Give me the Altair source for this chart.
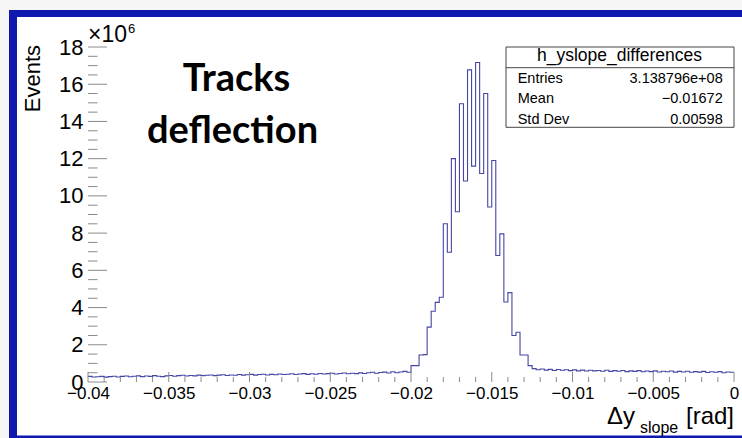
import altair as alt
import pandas as pd

# ---------------- data ----------------
x_min, x_max = -0.04, 0.0
bin_width = 0.00025   # 160 bins

# counts per bin in units of 10^6
counts_left = [
    0.30, 0.27, 0.28, 0.30, 0.26, 0.29, 0.31, 0.27, 0.30, 0.32,
    0.28, 0.31, 0.33, 0.29, 0.32, 0.30, 0.34, 0.31, 0.29, 0.33,
    0.35, 0.31, 0.34, 0.36, 0.32, 0.35, 0.33, 0.37, 0.34, 0.36,
    0.38, 0.34, 0.37, 0.39, 0.35, 0.38, 0.36, 0.40, 0.37, 0.39,
    0.41, 0.37, 0.40, 0.42, 0.38, 0.41, 0.39, 0.43, 0.40, 0.42,
    0.44, 0.40, 0.43, 0.45, 0.41, 0.44, 0.42, 0.46, 0.43, 0.45,
    0.47, 0.43, 0.46, 0.48, 0.44, 0.47, 0.45, 0.49, 0.46, 0.50,
    0.52, 0.47, 0.51, 0.53, 0.48, 0.55, 0.50, 0.54, 0.57, 0.52,
]
counts_peak = [
    0.88, 0.88, 1.45, 1.47, 2.95, 3.80, 4.28, 4.55, 8.50, 6.97,
    12.00, 9.15, 14.95, 10.80, 16.77, 11.60, 17.17, 11.20, 15.50, 9.40,
    11.90, 6.80, 7.96, 4.30, 4.80, 2.50, 2.67, 1.45, 1.45, 0.88,
]
counts_right = [
    0.72, 0.66, 0.70, 0.64, 0.68, 0.62, 0.67, 0.63, 0.66, 0.61,
    0.65, 0.60, 0.64, 0.59, 0.63, 0.60, 0.62, 0.58, 0.63, 0.57,
    0.61, 0.58, 0.62, 0.56, 0.60, 0.57, 0.61, 0.55, 0.59, 0.56,
    0.60, 0.54, 0.58, 0.55, 0.59, 0.53, 0.57, 0.54, 0.58, 0.52,
    0.56, 0.53, 0.57, 0.51, 0.55, 0.52, 0.56, 0.50, 0.54, 0.52,
]
counts = counts_left + counts_peak + counts_right

x_tick_values = [-0.04, -0.035, -0.03, -0.025, -0.02, -0.015, -0.01, -0.005, 0.0]
y_tick_values = [0, 2, 4, 6, 8, 10, 12, 14, 16, 18]

hist_name = "h_yslope_differences"
stats_labels = ["Entries", "Mean", "Std Dev"]
stats_values = ["3.138796e+08", "\u22120.01672", "0.00598"]

# ---------------- tables ----------------
edges = [round(x_min + i * bin_width, 6) for i in range(len(counts) + 1)]
hist_df = pd.DataFrame({"x": edges, "y": counts + [counts[-1]]})

x_minor = [round(x_min + 0.001 * i, 4) for i in range(41) if i % 5 != 0]
y_minor = [0.5 * i for i in range(37) if i % 4 != 0]

one = pd.DataFrame({"a": [0]})

W, H = 646, 335
FONT = "Liberation Sans"
FRAME = "#8a8a8a"
BLUE = "#1018b0"

xscale = alt.Scale(domain=[x_min, x_max], nice=False, zero=False)
yscale = alt.Scale(domain=[0, 18], nice=False, zero=False)

x_axis = alt.Axis(
    values=x_tick_values, format="~g", ticks=False, domain=False, grid=False,
    labelFlush=False, labelOverlap=False, labelFont=FONT, labelFontSize=17,
    labelColor="black", labelPadding=3, title=None, zindex=1)
y_axis = alt.Axis(
    values=y_tick_values, ticks=False, domain=False, grid=False,
    labelFont=FONT, labelFontSize=22, labelColor="black", labelPadding=5,
    labelOverlap=False, labelFlush=False, title=None, zindex=1)


def rect(x1, x2, y1, y2, **kw):
    return alt.Chart(one).mark_rect(**kw).encode(
        x=alt.value(x1), x2=alt.value(x2), y=alt.value(y1), y2=alt.value(y2)
    )


def text(s, x, y, size, align="left", baseline="alphabetic", **kw):
    return alt.Chart(one).mark_text(
        align=align, baseline=baseline, fontSize=size, font=kw.pop("font", FONT),
        color=kw.pop("color", "black"), **kw
    ).encode(x=alt.value(x), y=alt.value(y), text=alt.value(s))


# decorations: white panel and blue border (coordinates relative to plot origin 88,47)
panel = rect(-71, 654, -30, 389, color="white")
border_top = rect(-79, 654, -37, -30, color=BLUE)
border_left = rect(-79, -71, -37, 391, color=BLUE, cornerRadiusTopLeft=3)
border_bottom = rect(-79, 654, 388.5, 391, color=BLUE)

hist = alt.Chart(hist_df).mark_line(
    interpolate="step-after", color="#4646a6", strokeWidth=1.1
).encode(
    x=alt.X("x:Q", scale=xscale, axis=x_axis),
    y=alt.Y("y:Q", scale=yscale, axis=y_axis),
)

ymaj_ticks = alt.Chart(pd.DataFrame({"v": y_tick_values})).mark_rule(color=FRAME, strokeWidth=1).encode(
    y=alt.Y("v:Q", scale=yscale, axis=y_axis), x=alt.value(0), x2=alt.value(19))
ymin_ticks = alt.Chart(pd.DataFrame({"v": y_minor})).mark_rule(color=FRAME, strokeWidth=1).encode(
    y=alt.Y("v:Q", scale=yscale, axis=y_axis), x=alt.value(0), x2=alt.value(9.5))
xmaj_ticks = alt.Chart(pd.DataFrame({"v": x_tick_values})).mark_rule(color=FRAME, strokeWidth=1).encode(
    x=alt.X("v:Q", scale=xscale, axis=x_axis), y=alt.value(H), y2=alt.value(H - 10))
xmin_ticks = alt.Chart(pd.DataFrame({"v": x_minor})).mark_rule(color=FRAME, strokeWidth=1).encode(
    x=alt.X("v:Q", scale=xscale, axis=x_axis), y=alt.value(H), y2=alt.value(H - 5))

# stats box
box = rect(418, 646, 0, 80.3, fill="white", stroke="#454545", strokeWidth=1)
sep = alt.Chart(one).mark_rule(color="#454545", strokeWidth=1).encode(
    x=alt.value(418), x2=alt.value(646), y=alt.value(20.7))
stats_layers = [text(hist_name, 531.5, 14, 17.5, align="center")]
row_y = [35.7, 56.3, 76.7]
for lab, val, yy in zip(stats_labels, stats_values, row_y):
    stats_layers.append(text(lab, 429.7, yy, 14.5))
    stats_layers.append(text(val, 634.7, yy, 14.5, align="right"))

# titles / annotations
events = text("Events", -55, -2, 22, align="right", baseline="middle", angle=270)
times10 = text("\u00d710", 0, -5.3, 23)
exp6 = text("6", 40, -13.7, 13)
xt_main = text("\u0394y", 547, 376.5, 24, align="right")
xt_sub = text("slope", 552, 386, 16)
xt_unit = text("[rad]", 646, 376.5, 24, align="right")
tracks = text("Tracks", 148.5, 44, 38, align="center", font="Lato", fontWeight="bold")
deflection = text("deflection", 144.5, 96, 38, align="center", font="Lato", fontWeight="bold")

chart = alt.layer(
    panel, border_top, border_left, border_bottom,
    hist, ymaj_ticks, ymin_ticks, xmaj_ticks, xmin_ticks,
    box, sep, *stats_layers,
    events, times10, exp6, xt_main, xt_sub, xt_unit, tracks, deflection,
).properties(
    width=W, height=H,
    autosize=alt.AutoSizeParams(type="none"),
    padding={"left": 88, "top": 47, "right": 8, "bottom": 56},
    background="#f6f6f6",
).configure_view(stroke=FRAME, strokeWidth=1)

chart.save("out.html", embed_options={"renderer": "svg", "actions": False})
